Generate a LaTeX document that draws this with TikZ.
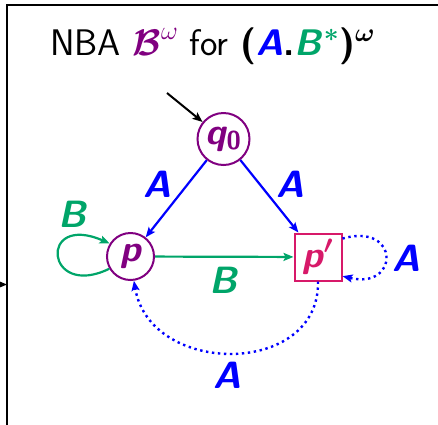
\RequirePackage{fix-cm}
\documentclass[tikz,border=0pt]{standalone}
\usepackage{amsmath,amssymb}
\usetikzlibrary{arrows.meta}
\definecolor{npurple}{RGB}{128,0,128}
\definecolor{ngreen}{RGB}{0,165,105}
\definecolor{nblue}{RGB}{0,0,255}
\definecolor{npink}{RGB}{215,25,105}
\tikzset{
  big/.style={font=\fontsize{37}{40}\selectfont\sffamily},
  lab/.style={font=\fontsize{38}{40}\selectfont\sffamily\bfseries\itshape, inner sep=0pt},
  state/.style={circle, draw=npurple, line width=2pt, text=npurple, inner sep=0pt,
    font=\fontsize{37}{40}\selectfont\sffamily\bfseries\itshape},
  accstate/.style={rectangle, draw=npink, line width=2pt, text=npink, inner sep=0pt,
    minimum size=47pt, font=\fontsize{37}{40}\selectfont\sffamily\bfseries\itshape},
  tipA/.style={-{Stealth[length=10pt,width=8pt,inset=2pt]}},
  bedge/.style={tipA, draw=nblue, line width=2.2pt},
  gedge/.style={tipA, draw=ngreen, line width=2.2pt},
  dedge/.style={tipA, draw=nblue, line width=2.4pt, dash pattern=on 2.4pt off 3.6pt},
  frame/.style={draw=black, line width=2.2pt}
}
\begin{document}
\begin{tikzpicture}[x=1pt,y=-1pt]
\useasboundingbox (0,0) rectangle (438,424);
% frame
\draw[frame] (445,5) -- (7,5) -- (7,430);
\coordinate (ext) at (-20,284.5);
\coordinate (fr) at (7,284.5);
\draw[-{Stealth[length=11pt,width=9pt]}, line width=2pt] (ext) -- (fr);
% title
\node[big, anchor=base west, inner sep=0pt] (title) at (50,55)
  {NBA \textcolor{npurple}{$\boldsymbol{\mathcal{B}}^{\omega}$}\ for
   \textbf{(\textcolor{nblue}{\textit{A}}.\textcolor{ngreen}{\textit{B}$^{\boldsymbol{*}}$})$^{\boldsymbol{\omega}}$}};
% states
\node[state, minimum size=52pt] (q0) at (223.5,139) {q\textsubscript{\upshape 0}};
\node[state, minimum size=47pt] (p) at (130.5,256.5) {p};
\node[accstate] (pp) at (318,257) {p$\boldsymbol{'}$};
% initial
\coordinate (init) at (167,93);
\draw[-{Stealth[length=10pt,width=8pt,inset=2pt]}, line width=2pt] (init) -- (q0);
% edges
\draw[bedge] (q0) -- (p);
\draw[bedge] (q0) -- (pp);
\draw[gedge] (p) -- (pp);
\draw[gedge] (p.210) .. controls (45,300) and (38,212) .. (p.148);
\draw[dedge] (pp.37) .. controls (400,222) and (400,290) .. (pp.-38);
\draw[dedge] (pp.south) .. controls (320,377) and (150,377) .. (p.-82);
% labels
\node[lab, text=nblue] (la1) at (157,184.5) {A};
\node[lab, text=nblue] (la2) at (290,184.5) {A};
\node[lab, text=ngreen] (lb1) at (72,214.5) {B};
\node[lab, text=ngreen] (lb2) at (223.5,280) {B};
\node[lab, text=nblue] (la3) at (406.5,258.5) {A};
\node[lab, text=nblue] (la4) at (227.5,375.5) {A};
\end{tikzpicture}
\end{document}
